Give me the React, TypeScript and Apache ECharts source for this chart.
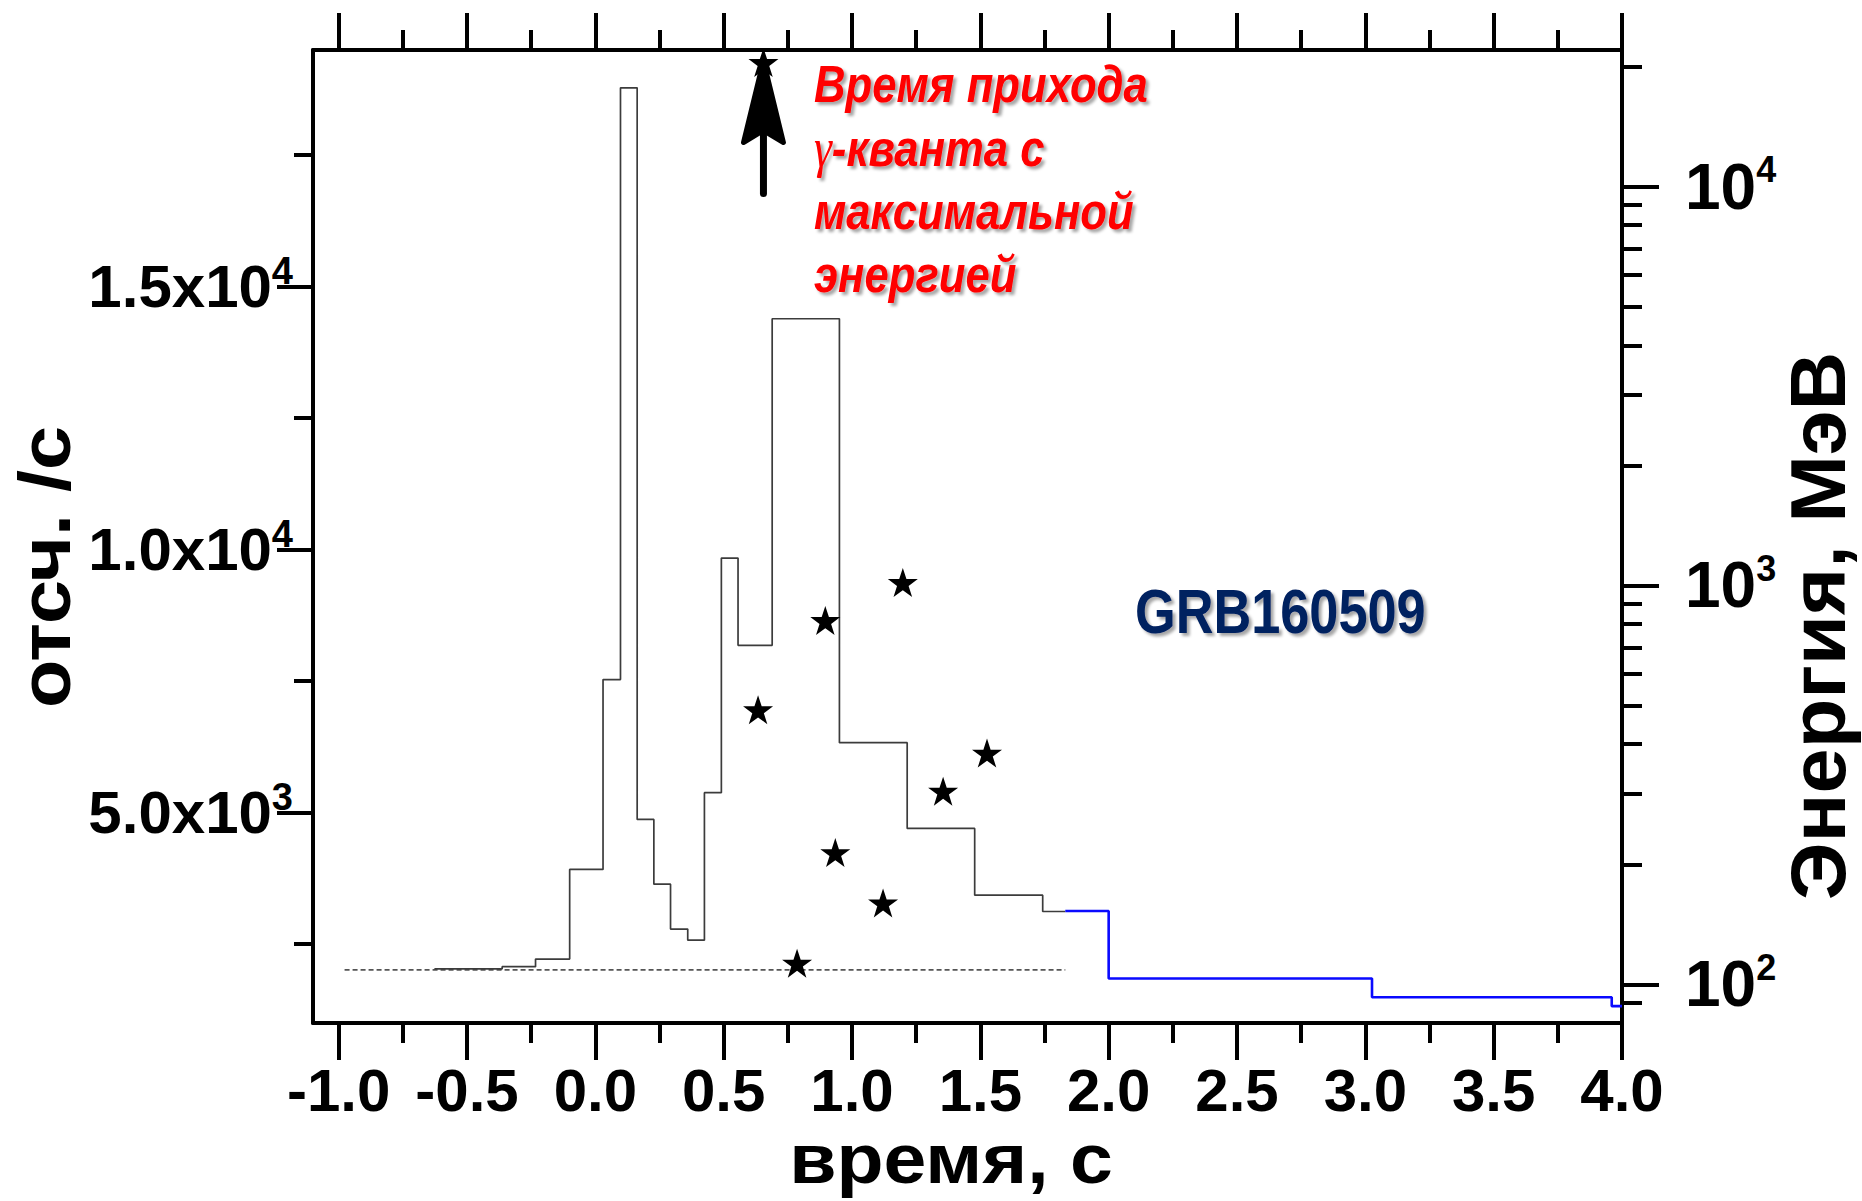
import React, { useEffect, useRef } from "react";
import * as echarts from "echarts";

// ---------- data ----------
const X_MIN = -1.1;
const X_MAX = 4.0;
const xMajorTicks = [-1.0, -0.5, 0, 0.5, 1.0, 1.5, 2.0, 2.5, 3.0, 3.5, 4.0];
const xMinorTicks = [-0.75, -0.25, 0.25, 0.75, 1.25, 1.75, 2.25, 2.75, 3.25, 3.75];

const COUNTS_MIN = 1000;
const COUNTS_MAX = 19500;
const countsLabelTicks = [5000, 10000, 15000];
const countsMinorTicks = [2500, 7500, 12500, 17500];

const ENERGY_MIN = 80;
const ENERGY_MAX = 22000;
const energyLabelTicks = [100, 1000, 10000];
const energyMinorTicks = [90, 200, 300, 400, 500, 600, 700, 800, 900, 2000, 3000, 4000, 5000, 6000, 7000, 8000, 9000, 20000];

// light curve (counts/s), bin left edges + final right edge
const grayBinEdges = [-0.627, -0.363, -0.233, -0.1, 0.03, 0.098, 0.163, 0.228, 0.293, 0.36, 0.425, 0.491, 0.556, 0.689, 0.951, 1.215, 1.478, 1.743, 1.831];
const grayCounts = [2030, 2070, 2215, 3920, 7530, 18780, 4870, 3640, 2785, 2575, 5380, 9840, 8180, 14390, 6330, 4700, 3430, 3120];

const blueBinEdges = [1.831, 2.0, 3.026, 3.96, 4.0];
const blueCounts = [3130, 1845, 1490, 1320];

const backgroundTimes = [-0.977, 1.831];
const backgroundLevel = 2010;

// photons: time (s), energy (MeV)
const photonTimes = [0.655, 0.634, 0.896, 1.198, 1.526, 1.355, 0.935, 1.121, 0.786];
const photonEnergies = [20470, 488, 817, 1017, 380, 305, 214, 160, 113];

const annotationLines = ["Время прихода", "γ-кванта с", "максимальной", "энергией"];
const grbName = "GRB160509";
const xTitle = "время, с";
const yLeftTitle = "отсч. /с";
const yRightTitle = "Энергия, МэВ";

// ---------- styles ----------
const FONT = "'Liberation Sans', Arial, sans-serif";
const STAR = "path://M50,0 L61.8,35.1 L98.9,35.1 L68.9,56.8 L80.3,91.9 L50,70.2 L19.7,91.9 L31.1,56.8 L1.1,35.1 L38.2,35.1 Z";

const axisLineStyle = { color: "#000", width: 4 };
const SHADOW = { textShadowColor: "rgba(0,0,0,0.35)", textShadowBlur: 3, textShadowOffsetX: 3, textShadowOffsetY: 3 };

function stepPoints(edges: number[], values: number[]) {
  return edges.map((e, i) => [e, values[Math.min(i, values.length - 1)]]);
}

function fmtCounts(v: number) {
  const e = Math.floor(Math.log10(v) + 1e-9);
  const m = (v / Math.pow(10, e)).toFixed(1);
  return `{m|${m}x10}{s|${e}}`;
}
function fmtEnergy(v: number) {
  const e = Math.round(Math.log10(v));
  return `{m|10}{s|${e}}`;
}

function xAxisDef(position: "top" | "bottom", ticks: number[], len: number, withLine: boolean, withLabels: boolean) {
  return {
    type: "value",
    position,
    min: X_MIN,
    max: X_MAX,
    axisLine: { show: withLine, onZero: false, lineStyle: axisLineStyle },
    axisTick: { show: true, inside: false, customValues: ticks, length: len, lineStyle: { color: "#000", width: 4 } },
    axisLabel: withLabels
      ? {
          show: true,
          customValues: ticks,
          margin: 37,
          formatter: (v: number) => v.toFixed(1),
          fontSize: 60,
          lineHeight: 60,
          fontWeight: "bold",
          fontFamily: FONT,
          color: "#000",
        }
      : { show: false },
    splitLine: { show: false },
  };
}

function centeredText(text: string, x: number, y: number, size: number, sx: number, rotation = 0) {
  return {
    type: "text",
    x,
    y,
    rotation,
    scaleX: sx,
    style: {
      text,
      fill: "#000",
      fontSize: size,
      fontWeight: "bold",
      fontFamily: FONT,
      align: "center",
      verticalAlign: "middle",
      textAlign: "center",
      textVerticalAlign: "middle",
    },
  };
}

export default function App() {
  const ref = useRef<HTMLDivElement>(null);

  useEffect(() => {
    if (!ref.current) return;
    const chart = echarts.init(ref.current, null, { renderer: "svg" });

    const option: any = {
      animation: false,
      backgroundColor: "#fff",
      grid: { left: 313, right: 240, top: 50, bottom: 178, containLabel: false, outerBoundsMode: "none" },
      xAxis: [
        xAxisDef("bottom", xMajorTicks, 37, true, true),
        xAxisDef("bottom", xMinorTicks, 20, false, false),
        xAxisDef("top", xMajorTicks, 37, true, false),
        xAxisDef("top", xMinorTicks, 20, false, false),
      ],
      yAxis: [
        {
          type: "value",
          position: "left",
          min: COUNTS_MIN,
          max: COUNTS_MAX,
          axisLine: { show: true, onZero: false, lineStyle: axisLineStyle },
          axisTick: { show: true, customValues: countsLabelTicks, length: 36, lineStyle: { color: "#000", width: 4 } },
          axisLabel: {
            customValues: countsLabelTicks,
            margin: 20,
            formatter: fmtCounts,
            color: "#000",
            rich: {
              m: { fontSize: 60, lineHeight: 70, fontWeight: "bold", fontFamily: FONT, color: "#000" },
              s: { fontSize: 38, lineHeight: 10, fontWeight: "bold", fontFamily: FONT, color: "#000", verticalAlign: "top" },
            },
          },
          splitLine: { show: false },
        },
        {
          type: "log",
          logBase: 10,
          position: "right",
          min: ENERGY_MIN,
          max: ENERGY_MAX,
          axisLine: { show: true, onZero: false, lineStyle: axisLineStyle },
          axisTick: { show: true, customValues: energyLabelTicks, length: 37, lineStyle: { color: "#000", width: 4 } },
          axisLabel: {
            customValues: energyLabelTicks,
            margin: 63,
            formatter: fmtEnergy,
            color: "#000",
            rich: {
              m: { fontSize: 64, lineHeight: 70, fontWeight: "bold", fontFamily: FONT, color: "#000" },
              s: { fontSize: 36, lineHeight: 23, fontWeight: "bold", fontFamily: FONT, color: "#000", verticalAlign: "top" },
            },
          },
          splitLine: { show: false },
        },
        {
          type: "value",
          position: "left",
          min: COUNTS_MIN,
          max: COUNTS_MAX,
          axisLine: { show: false, onZero: false },
          axisTick: { show: true, customValues: countsMinorTicks, length: 19, lineStyle: { color: "#000", width: 4 } },
          axisLabel: { show: false },
          splitLine: { show: false },
        },
        {
          type: "log",
          logBase: 10,
          position: "right",
          min: ENERGY_MIN,
          max: ENERGY_MAX,
          axisLine: { show: false, onZero: false },
          axisTick: { show: true, customValues: energyMinorTicks, length: 20, lineStyle: { color: "#000", width: 4 } },
          axisLabel: { show: false },
          splitLine: { show: false },
        },
      ],
      series: [
        {
          name: "counts",
          type: "line",
          step: "end",
          xAxisIndex: 0,
          yAxisIndex: 0,
          symbol: "none",
          data: stepPoints(grayBinEdges, grayCounts),
          lineStyle: { color: "#3c3c3c", width: 1.7 },
          z: 3,
        },
        {
          name: "counts2",
          type: "line",
          step: "end",
          xAxisIndex: 0,
          yAxisIndex: 0,
          symbol: "none",
          data: stepPoints(blueBinEdges, blueCounts),
          lineStyle: { color: "#0a0aff", width: 2.6 },
          z: 3,
        },
        {
          name: "background",
          type: "line",
          xAxisIndex: 0,
          yAxisIndex: 0,
          symbol: "none",
          data: backgroundTimes.map((t) => [t, backgroundLevel]),
          lineStyle: { color: "#555", width: 1.6, type: [5, 3] },
          z: 2,
        },
        {
          name: "photons",
          type: "scatter",
          xAxisIndex: 0,
          yAxisIndex: 1,
          symbol: STAR,
          symbolSize: [30, 29],
          itemStyle: { color: "#000", opacity: 1 },
          data: photonTimes.map((t, i) => [t, photonEnergies[i]]),
          z: 5,
        },
      ],
    };

    chart.setOption(option);

    const sp = chart.convertToPixel({ seriesIndex: 3 }, [photonTimes[0], photonEnergies[0]]) as number[];
    const sx = sp[0];
    const sy = sp[1];

    const redStyle = {
      fill: "#ff0000",
      fontSize: 52,
      fontWeight: "bold",
      fontStyle: "italic",
      fontFamily: FONT,
      align: "left",
      verticalAlign: "middle",
      textAlign: "left",
      textVerticalAlign: "middle",
      ...SHADOW,
    };
    const annY = [84, 148, 211, 274];

    const graphics: any[] = [
      centeredText(xTitle, 951, 1159, 70, 1.1),
      centeredText(yLeftTitle, 45, 567, 72, 1.1, Math.PI / 2),
      centeredText(yRightTitle, 1818, 626, 78, 1.04, Math.PI / 2),
      {
        type: "text",
        x: 1135,
        y: 611,
        scaleX: 0.83,
        style: {
          text: grbName,
          fill: "#002060",
          fontSize: 63,
          fontWeight: "bold",
          fontFamily: FONT,
          align: "left",
          verticalAlign: "middle",
          textAlign: "left",
          textVerticalAlign: "middle",
          ...SHADOW,
        },
      },
      ...annotationLines.map((line, i) => {
        if (line.startsWith("γ")) {
          return {
            type: "text",
            x: 814,
            y: annY[i],
            scaleX: 0.84,
            style: {
              ...redStyle,
              text: `{g|γ}{t|${line.slice(1)}}`,
              rich: {
                g: { fontSize: 54, fontStyle: "italic", fontWeight: "normal", fontFamily: "'Liberation Serif', serif", fill: "#ff0000", ...SHADOW },
                t: { fontSize: 52, fontStyle: "italic", fontWeight: "bold", fontFamily: FONT, fill: "#ff0000", ...SHADOW },
              },
            },
          };
        }
        return { type: "text", x: 814, y: annY[i], scaleX: 0.84, style: { ...redStyle, text: line } };
      }),
      // arrow pointing at the highest-energy photon
      {
        type: "line",
        shape: { x1: sx, y1: sy + 66, x2: sx, y2: sy + 131 },
        style: { stroke: "#000", lineWidth: 7, lineCap: "round" },
        z: 10,
      },
      {
        type: "polygon",
        shape: { points: [[sx, sy - 2], [sx + 20, sy + 80], [sx, sy + 68], [sx - 20, sy + 80]] },
        style: { fill: "#000", stroke: "#000", lineWidth: 5, lineJoin: "round" },
        z: 10,
      },
    ];

    chart.setOption({ graphic: graphics });

    return () => chart.dispose();
  }, []);

  return (
    <div
      ref={ref}
      style={{ position: "fixed", left: 0, top: 0, width: 1862, height: 1201, background: "#fff" }}
    />
  );
}
